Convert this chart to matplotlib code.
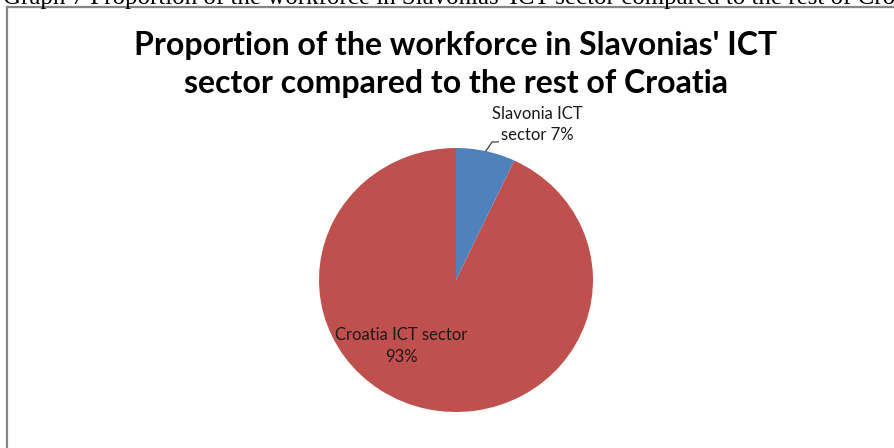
import matplotlib
matplotlib.use("Agg")
import matplotlib.pyplot as plt
from matplotlib.patches import Rectangle
import numpy as np

categories = ["Slavonia ICT sector", "Croatia ICT sector"]
shares = [7, 93]
colors = ["#4F81BD", "#C0504D"]
title = "Proportion of the workforce in Slavonias' ICT\nsector compared to the rest of Croatia"
caption = "Graph 7 Proportion of the workforce in Slavonias' ICT sector compared to the rest of Croatia"

W, H = 895, 448
fig = plt.figure(figsize=(W / 100, H / 100), dpi=100)
fig.patch.set_facecolor("white")

def fx(px):
    return px / W

def fy(py):
    return 1 - py / H

# document caption above the chart frame (partly cut off at the top)
fig.text(fx(3), fy(4), caption, family="Liberation Serif", fontsize=17.9,
         ha="left", va="baseline", color="black")

# chart frame
fig.add_artist(Rectangle((fx(7.5), fy(470)), fx(920), fy(7.5) - fy(470),
                         transform=fig.transFigure, fill=False,
                         edgecolor="#868686", linewidth=1.6))

# chart title
title_lines = title.split("\n")
fig.text(fx(456), fy(46), title_lines[0], family="Lato", weight="bold",
         fontsize=23, ha="center", va="center", color="black")
fig.text(fx(456), fy(84), title_lines[1], family="Lato", weight="bold",
         fontsize=23, ha="center", va="center", color="black")

# pie
cx, cy, rx, ry = 456, 280, 137, 132
ax = fig.add_axes([fx(cx - rx), fy(cy + ry), 2 * rx / W, 2 * ry / H])
wedges, _ = ax.pie(shares, colors=colors, startangle=90, counterclock=False,
                   radius=1, wedgeprops=dict(linewidth=0))
ax.set_aspect("auto")
ax.set_xlim(-1, 1)
ax.set_ylim(-1, 1)
ax.axis("off")

label_font = dict(family="Lato", fontsize=12, color="#1a1a1a")

# label for the small slice with a leader line
theta = np.deg2rad(90 - shares[0] / sum(shares) * 360 / 2)
x0, y0 = np.cos(theta), np.sin(theta)
ax.plot([x0, x0 + 0.045, x0 + 0.09], [y0, y0 + 0.07, y0 + 0.07],
        color="#404040", linewidth=0.9, clip_on=False)
ax.text(0.59, 1.18, f"Slavonia ICT\nsector {shares[0]}%", ha="center",
        va="center", linespacing=1.4, **label_font)

# label inside the large slice
ax.text(-0.40, -0.50, f"Croatia ICT sector\n{shares[1]}%", ha="center",
        va="center", linespacing=1.4, **label_font)

fig.savefig("out.png", dpi=100, facecolor="white")
